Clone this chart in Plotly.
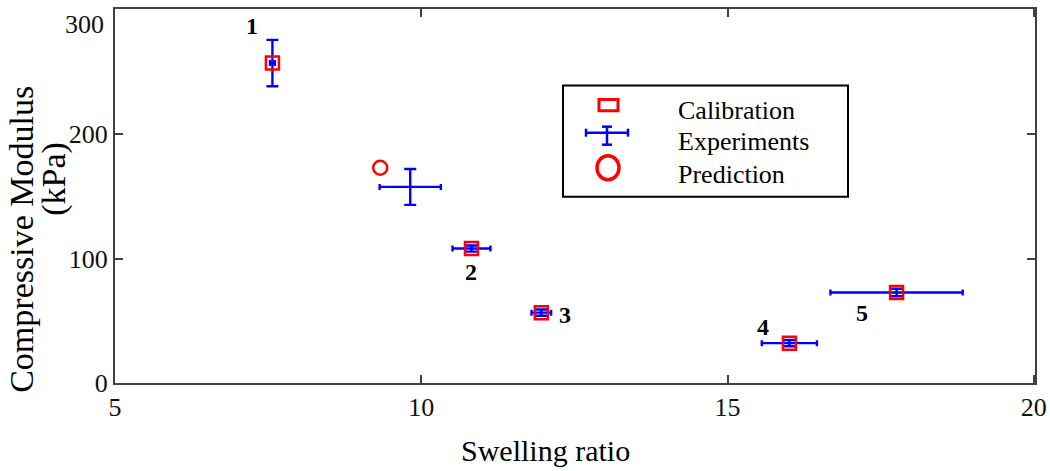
import plotly.graph_objects as go

# ---- data ----
exp_x = [7.57, 9.82, 10.82, 11.96, 16.01, 17.76]
exp_y = [257.0, 157.5, 108.0, 56.5, 32.0, 72.7]
exp_xerr = [0.04, 0.50, 0.31, 0.16, 0.45, 1.08]
exp_yerr = [18.6, 14.4, 2.5, 2.5, 2.5, 3.0]

cal_x = [7.57, 10.82, 11.96, 16.01, 17.76]
cal_y = [257.0, 108.0, 56.5, 32.0, 72.7]
cal_labels = ["1", "2", "3", "4", "5"]

pred_x = [9.33]
pred_y = [172.9]

x_ticks = [5, 10, 15, 20]
y_ticks = [0, 100, 200, 300]
y_ticktext = ["0", "100", "200", "300"]

RED = "#ff0000"
BLUE = "#0000ff"
FONT = "Liberation Serif"

fig = go.Figure()

fig.add_trace(go.Scatter(
    x=exp_x, y=exp_y, mode="markers", name="Experiments",
    marker=dict(size=3, color=BLUE),
    error_x=dict(type="data", array=exp_xerr, color=BLUE, thickness=2.4, width=3),
    error_y=dict(type="data", array=exp_yerr, color=BLUE, thickness=2.4, width=6),
    showlegend=False,
))
fig.add_trace(go.Scatter(
    x=cal_x, y=cal_y, mode="markers", name="Calibration",
    marker=dict(symbol="square-open", size=13, color=RED, line=dict(width=2.5, color=RED)),
    showlegend=False,
))
fig.add_trace(go.Scatter(
    x=pred_x, y=pred_y, mode="markers", name="Prediction",
    marker=dict(symbol="circle-open", size=14, color=RED, line=dict(width=2.5, color=RED)),
    showlegend=False,
))

# point number labels (pixel offsets from each calibration point)
label_shift = [(-20, 37), (0, -23), (24, -2), (-26, 16), (-35, -21)]
for xv, yv, t, (dx, dy) in zip(cal_x, cal_y, cal_labels, label_shift):
    fig.add_annotation(x=xv, y=yv, text="<b>%s</b>" % t, showarrow=False,
                       xshift=dx, yshift=dy,
                       font=dict(family=FONT, size=24, color="black"))

# ---- pixel -> paper helper ----
L, R, T, B = 115, 1035, 9.5, 383
def px(xp):
    return (xp - L) / (R - L)
def py(yp):
    return (B - yp) / (B - T)

# ---- manual legend ----
fig.add_shape(type="rect", xref="paper", yref="paper",
              x0=px(563), x1=px(848), y0=py(86), y1=py(197),
              line=dict(color="black", width=2), fillcolor="white", layer="above")
fig.add_shape(type="rect", xref="paper", yref="paper",
              x0=px(599), x1=px(618), y0=py(100), y1=py(111),
              line=dict(color=RED, width=3), layer="above")
for (a, b, c, d) in [(586, 133, 628, 133), (607, 127, 607, 145),
                     (586, 129, 586, 137), (628, 129, 628, 137),
                     (602, 127, 612, 127), (602, 145, 612, 145)]:
    fig.add_shape(type="line", xref="paper", yref="paper",
                  x0=px(a), y0=py(b), x1=px(c), y1=py(d),
                  line=dict(color=BLUE, width=2.5), layer="above")
fig.add_shape(type="circle", xref="paper", yref="paper",
              x0=px(597), x1=px(619), y0=py(156), y1=py(180),
              line=dict(color=RED, width=3.5), layer="above")
for txt, yy in [("Calibration", 111), ("Experiments", 142), ("Prediction", 175)]:
    fig.add_annotation(xref="paper", yref="paper", x=px(676), y=py(yy),
                       xanchor="left", yanchor="middle", text=txt, showarrow=False,
                       font=dict(family=FONT, size=26, color="black"))

# ---- axis titles ----
fig.add_annotation(xref="paper", yref="paper", x=px(22), y=py(240),
                   text="Compressive Modulus", textangle=-90, showarrow=False,
                   xanchor="center", yanchor="middle",
                   font=dict(family=FONT, size=34, color="black"))
fig.add_annotation(xref="paper", yref="paper", x=px(54), y=py(179),
                   text="(kPa)", textangle=-90, showarrow=False,
                   xanchor="center", yanchor="middle",
                   font=dict(family=FONT, size=34, color="black"))
fig.add_annotation(xref="paper", yref="paper", x=px(545), y=py(450),
                   text="Swelling ratio", showarrow=False,
                   xanchor="center", yanchor="middle",
                   font=dict(family=FONT, size=30, color="black"))

TICKFONT = dict(family=FONT, size=26, color="#111111")

# top y tick label sits just below its tick in the reference (kept inside the page)
fig.add_annotation(xref="paper", yref="y", x=0, y=y_ticks[-1], xshift=-9, yshift=-15,
                   xanchor="right", yanchor="middle", text=y_ticktext[-1],
                   showarrow=False, font=TICKFONT)

axis_common = dict(
    showline=True, linecolor="#404040", linewidth=2, mirror="ticks",
    ticks="inside", tickcolor="#404040", ticklen=8, tickwidth=1.5,
    showgrid=False, zeroline=False, automargin=False,
    tickfont=TICKFONT,
)

fig.update_layout(
    width=1050, height=471,
    margin=dict(l=115, r=15, t=9, b=88),
    paper_bgcolor="white", plot_bgcolor="white",
    xaxis=dict(range=[5, 20.02], tickvals=x_ticks, **axis_common),
    yaxis=dict(range=[0, 300.4], tickvals=y_ticks,
               ticktext=y_ticktext[:-1] + [""], **axis_common),
    showlegend=False,
)

fig.write_html("out.html", config={"displayModeBar": False},
               post_script="document.body.style.margin='0';document.body.style.padding='0';")
